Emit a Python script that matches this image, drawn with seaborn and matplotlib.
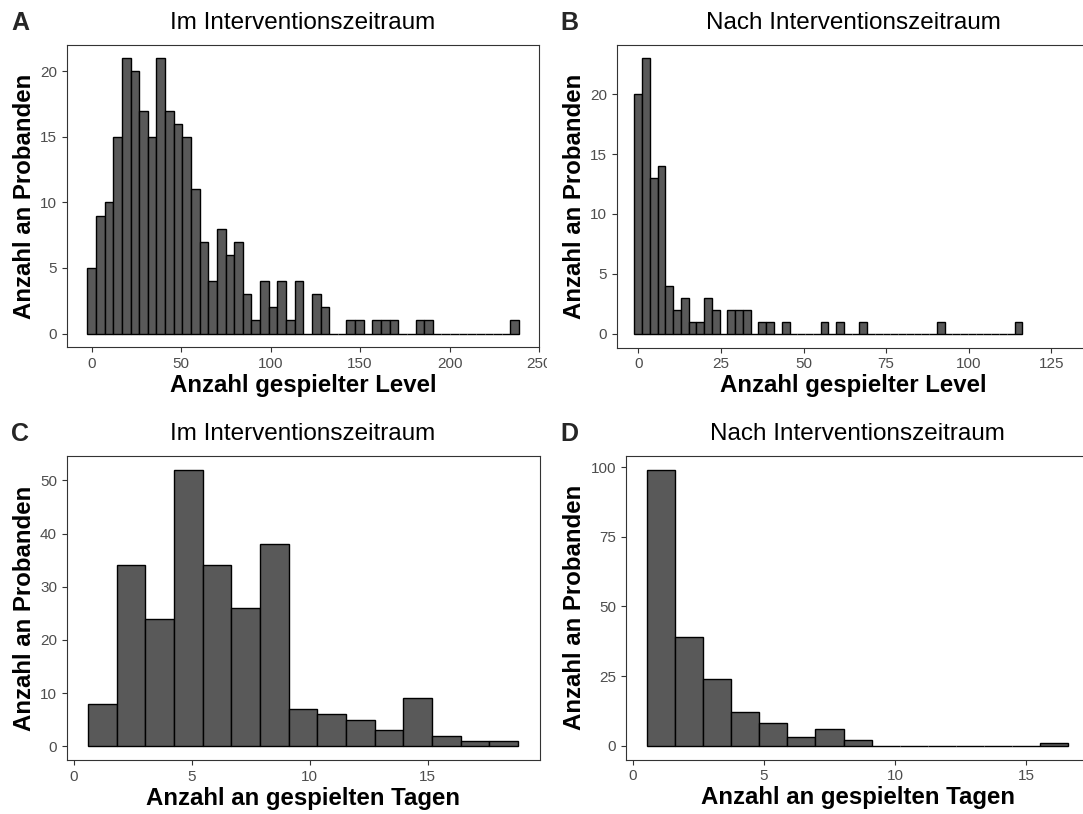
import numpy as np
import matplotlib
matplotlib.use("Agg")
import matplotlib.pyplot as plt
import seaborn as sns
from matplotlib.transforms import Bbox, TransformedBbox

# ---- binned participant counts -------------------------------------------
# Levels played during the intervention period (50 bins over 0 .. 236.5)
levels_during_range = (0, 236.5)
levels_during_counts = [5, 9, 10, 15, 21, 20, 17, 15, 21, 17, 16, 15, 11, 7, 4, 8, 6, 7, 3, 1,
                        4, 2, 4, 1, 4, 0, 3, 2, 0, 0, 1, 1, 0, 1, 1, 1, 0, 0, 1, 1,
                        0, 0, 0, 0, 0, 0, 0, 0, 0, 1]
# Levels played after the intervention period (50 bins over 0 .. 115)
levels_after_range = (0, 115)
levels_after_counts = [20, 23, 13, 14, 4, 2, 3, 1, 1, 3, 2, 0, 2, 2, 2, 0, 1, 1, 0, 1,
                       0, 0, 0, 0, 1, 0, 1, 0, 0, 1, 0, 0, 0, 0, 0, 0, 0, 0, 0, 1,
                       0, 0, 0, 0, 0, 0, 0, 0, 0, 1]
# Days played during the intervention period (15 bins over 1 .. 18)
days_during_range = (1, 18)
days_during_counts = [8, 34, 24, 52, 34, 26, 38, 7, 6, 5, 3, 9, 2, 1, 1]
# Days played after the intervention period (15 bins over 1 .. 16)
days_after_range = (1, 16)
days_after_counts = [99, 39, 24, 12, 8, 3, 6, 2, 0, 0, 0, 0, 0, 0, 1]

panel_tags = ["A", "B", "C", "D"]
titles = ["Im Interventionszeitraum", "Nach Interventionszeitraum",
          "Im Interventionszeitraum", "Nach Interventionszeitraum"]
xlabels = ["Anzahl gespielter Level", "Anzahl gespielter Level",
           "Anzahl an gespielten Tagen", "Anzahl an gespielten Tagen"]
ylabel = "Anzahl an Probanden"

x_ticks = [list(range(0, 251, 50)), list(range(0, 126, 25)), [0, 5, 10, 15], [0, 5, 10, 15]]
y_ticks = [list(range(0, 21, 5)), list(range(0, 21, 5)), list(range(0, 51, 10)), list(range(0, 101, 25))]
x_limits = [(-14, 250.2), (-6.5, 136.5), (-0.30, 19.73), (-0.27, 17.41)]


def gg_bins(lo, hi, n):
    """Bin edges the way ggplot2 builds them from `bins=n`."""
    w = (hi - lo) / (n - 1)
    b = w / 2
    origin = b + np.floor((lo - b) / w) * w
    return origin + w * np.arange(n + 1), w


sns.set_theme(style="white")
plt.rcParams["font.family"] = ["Liberation Sans", "DejaVu Sans"]

W, H = 1083, 814
fig = plt.figure(figsize=(W / 100, H / 100), dpi=100)
fig.patch.set_facecolor("white")


def add_ax(left, top, right, bottom):
    return fig.add_axes([left / W, 1 - bottom / H, (right - left) / W, (bottom - top) / H])


boxes = [(66.7, 44.5, 539.3, 347.3), (616.7, 44.5, 1089.5, 347.5),
         (66.7, 456, 539.5, 760), (625.7, 456, 1089.5, 759.5)]
tag_pos = [(11.5, 30), (560.5, 30), (11.5, 441), (560.5, 441)]

datasets = [(levels_during_range, levels_during_counts),
            (levels_after_range, levels_after_counts),
            (days_during_range, days_during_counts),
            (days_after_range, days_after_counts)]

axes = []
for i, ((lo, hi), counts) in enumerate(datasets):
    ax = add_ax(*boxes[i])
    axes.append(ax)
    edges, w = gg_bins(lo, hi, len(counts))
    centers = edges[:-1] + w / 2
    values = np.repeat(centers, counts)
    sns.histplot(x=values, bins=list(edges), ax=ax,
                 color="#595959", edgecolor="black", linewidth=1.0, alpha=1)
    ymax = max(counts)
    ax.set_ylim(-0.05 * ymax, 1.05 * ymax)
    ax.set_xlim(*x_limits[i])
    ax.set_xticks(x_ticks[i])
    ax.set_yticks(y_ticks[i])
    ax.set_title(titles[i], fontsize=17.5, pad=11.3, color="black")
    ax.set_xlabel(xlabels[i], fontsize=17.3, fontweight="bold", labelpad=2, color="black")
    ax.set_ylabel(ylabel, fontsize=17.3, fontweight="bold", labelpad=3, color="black")
    ax.tick_params(axis="both", which="major", length=3.5, width=0.8, color="#333333",
                   labelsize=11, labelcolor="#4D4D4D", pad=3.5,
                   bottom=True, left=True)
    for sp in ax.spines.values():
        sp.set_color("#333333")
        sp.set_linewidth(0.8)
    ax.grid(False)
    fig.text(tag_pos[i][0] / W, 1 - tag_pos[i][1] / H, panel_tags[i],
             fontsize=18, fontweight="bold", ha="left", va="baseline")

# The right-hand column's area covers the overflow of the left panel's last tick label
clip = TransformedBbox(Bbox([[0, 0], [547 / W, 1]]), fig.transFigure)
for lab in axes[0].get_xticklabels():
    lab.set_clip_on(True)
    lab.set_clip_box(clip)

fig.savefig("out.png", dpi=100)
